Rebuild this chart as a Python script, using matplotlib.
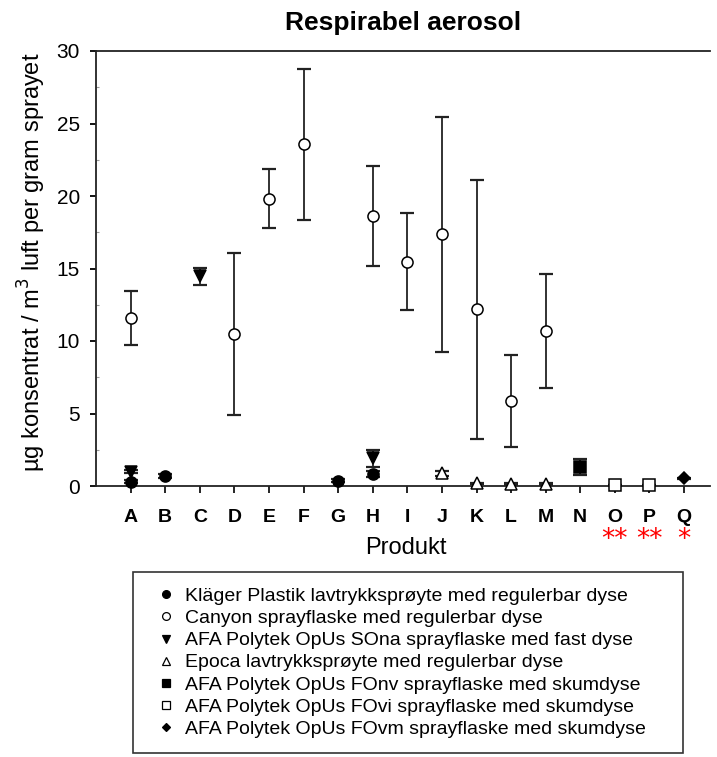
import matplotlib
matplotlib.use("Agg")
import matplotlib.pyplot as plt
from matplotlib.ticker import MultipleLocator
import matplotlib.transforms as mtransforms

plt.rcParams['font.family'] = ['Liberation Sans', 'DejaVu Sans']

# Produkter langs x-aksen
products = list("ABCDEFGHIJKLMNOPQ")

# Kläger Plastik lavtrykksprøyte
klager_prod = ["A", "B", "G", "H"]
klager_val = [0.3, 0.69, 0.37, 0.85]
klager_err = [0.12, 0.15, 0.1, 0.2]

# Canyon sprayflaske
canyon_prod = ["A", "D", "E", "F", "H", "I", "J", "K", "L", "M"]
canyon_val = [11.57, 10.5, 19.8, 23.56, 18.62, 15.47, 17.36, 12.18, 5.86, 10.69]
canyon_err = [1.87, 5.6, 2.03, 5.2, 3.43, 3.33, 8.1, 8.95, 3.2, 3.9]

# AFA Polytek OpUs SOna
sona_prod = ["A", "C", "H"]
sona_val = [1.0, 14.45, 1.9]
sona_err = [0.1, 0.6, 0.6]

# Epoca lavtrykksprøyte
epoca_prod = ["J", "K", "L", "M"]
epoca_val = [0.87, 0.18, 0.15, 0.15]
epoca_err = [0.15, 0.05, 0.05, 0.05]

# AFA Polytek OpUs FOnv / FOvi / FOvm
fonv_prod = ["N"]
fonv_val = [1.3]
fonv_err = [0.53]
fovi_prod = ["O", "P"]
fovi_val = [0.05, 0.05]
fovi_err = [0.0, 0.0]
fovm_prod = ["Q"]
fovm_val = [0.53]
fovm_err = [0.05]

# stjerner under enkelte produkter
star_prod = ["O", "P", "Q"]
star_text = ["**", "**", "*"]

series = [
    (klager_prod, klager_val, klager_err, "o", "black", "Kläger Plastik lavtrykksprøyte med regulerbar dyse"),
    (canyon_prod, canyon_val, canyon_err, "o", "white", "Canyon sprayflaske med regulerbar dyse"),
    (sona_prod, sona_val, sona_err, "v", "black", "AFA Polytek OpUs SOna sprayflaske med fast dyse"),
    (epoca_prod, epoca_val, epoca_err, "^", "white", "Epoca lavtrykksprøyte med regulerbar dyse"),
    (fonv_prod, fonv_val, fonv_err, "s", "black", "AFA Polytek OpUs FOnv sprayflaske med skumdyse"),
    (fovi_prod, fovi_val, fovi_err, "s", "white", "AFA Polytek OpUs FOvi sprayflaske med skumdyse"),
    (fovm_prod, fovm_val, fovm_err, "D", "black", "AFA Polytek OpUs FOvm sprayflaske med skumdyse"),
]

fig = plt.figure(figsize=(7.17, 7.57), dpi=100)
ax = fig.add_axes([96 / 717, 1 - 486 / 757, (710 - 96) / 717, (486 - 51) / 757])

pos = {p: i + 1 for i, p in enumerate(products)}
handles = []
for prod, val, err, mk, fc, label in series:
    xs = [pos[p] for p in prod]
    ax.errorbar(xs, val, yerr=err, fmt="none", ecolor="#222222", elinewidth=1.3,
                capsize=4.7, capthick=1.6, zorder=2)
    ms = 6.5 if mk == "D" else 8
    h, = ax.plot(xs, val, linestyle="none", marker=mk, markersize=ms,
                 markerfacecolor=fc, markeredgecolor="black", markeredgewidth=1.1,
                 label=label, zorder=3, clip_on=False)
    handles.append(h)

ax.set_xlim(0, 17.75)
ax.set_ylim(0, 30)
ax.set_xticks(range(1, len(products) + 1))
ax.set_xticklabels(products, fontsize=14, fontweight="bold")
ax.yaxis.set_major_locator(MultipleLocator(5))
ax.yaxis.set_minor_locator(MultipleLocator(2.5))
ax.tick_params(axis="y", which="major", labelsize=15, length=4.5, width=1.3,
               direction="out", pad=7)
ax.tick_params(axis="y", which="minor", length=2.5, width=0.8, direction="in",
               color="#999999")
ax.tick_params(axis="x", which="major", length=5, width=1.2, direction="out", pad=11.5)
for s in ["left", "bottom", "top"]:
    ax.spines[s].set_linewidth(1.3)
    ax.spines[s].set_color("#222222")
ax.spines["right"].set_visible(False)

ax.set_title("Respirabel aerosol", fontsize=19, fontweight="bold", pad=15)
ax.set_xlabel("Produkt", fontsize=17)
ax.xaxis.set_label_coords(0.505, -0.117)
ax.set_ylabel("µg konsentrat / m$^{3}$ luft per gram sprayet", fontsize=17)
ax.yaxis.set_label_coords(-0.078, 0.515)

trans = mtransforms.blended_transform_factory(ax.transData, ax.transAxes)
for p, t in zip(star_prod, star_text):
    ax.text(pos[p], -0.14, t, color="red", fontsize=19, ha="center", va="baseline",
            transform=trans, family="DejaVu Sans")

leg = fig.legend(handles=handles, loc="upper left",
                 bbox_to_anchor=(133 / 717, 1 - 572 / 757, (683 - 133) / 717, 0.0),
                 mode="expand", frameon=True, fancybox=False, edgecolor="black",
                 fontsize=14, markerscale=0.7, handlelength=1.8, handletextpad=0.05,
                 labelspacing=0.23, borderpad=0.8, borderaxespad=0.0)
leg.get_frame().set_linewidth(1.2)
for h in leg.legend_handles:
    h.set_markeredgewidth(0.9)

fig.savefig("out.png", dpi=100)
